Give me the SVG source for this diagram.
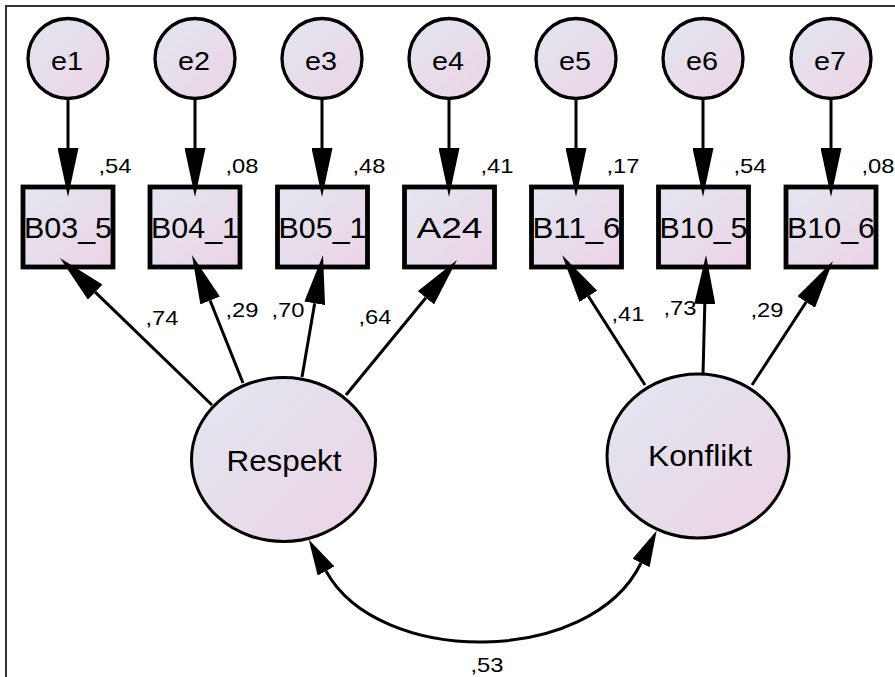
<svg xmlns="http://www.w3.org/2000/svg" width="895" height="677" viewBox="0 0 895 677">
  <style>
    .node { fill: url(#fillGrad); stroke: #000; }
    .err { stroke-width: 3.3; }
    .obs { stroke-width: 4.8; }
    .lat { stroke-width: 3; }
    .lbl { font-family: "Liberation Sans", Arial, sans-serif; fill: #000; text-anchor: middle; }
    .num { font-family: "Liberation Sans", Arial, sans-serif; fill: #000; font-size: 21px; }
    .path { fill: none; stroke: #000; stroke-width: 3; }
  </style>
  <defs>
    <linearGradient id="fillGrad" x1="0" y1="0" x2="1" y2="1">
      <stop offset="0" stop-color="#e2e6f0"/>
      <stop offset="1" stop-color="#ecd3e6"/>
    </linearGradient>
    <!-- long arrowhead; its base sits on the path end -->
    <marker id="head" markerUnits="userSpaceOnUse" viewBox="0 0 49 21" refX="0" refY="10.5" markerWidth="49" markerHeight="21" orient="auto">
      <path d="M0,0 L49,10.5 L0,21 z" fill="#000"/>
    </marker>
    <!-- shorter head used on the covariance curve -->
    <marker id="covHead" markerUnits="userSpaceOnUse" viewBox="0 0 36 19" refX="0" refY="9.5" markerWidth="36" markerHeight="19" orient="auto-start-reverse">
      <path d="M0,0 L36,9.5 L0,19 z" fill="#000"/>
    </marker>
  </defs>

  <rect width="895" height="677" fill="#fff"/>
  <!-- frame -->
  <path d="M6,677 V6 H895" fill="none" stroke="#333" stroke-width="2"/>

  <!-- error terms -->
  <g id="e1"><circle class="node err" cx="68" cy="58.5" r="40"/><text class="lbl" x="67" y="69.5" font-size="25" textLength="32" lengthAdjust="spacingAndGlyphs">e1</text></g>
  <g id="e2"><circle class="node err" cx="195" cy="58.5" r="40"/><text class="lbl" x="194" y="69.5" font-size="25" textLength="32" lengthAdjust="spacingAndGlyphs">e2</text></g>
  <g id="e3"><circle class="node err" cx="322" cy="58.5" r="40"/><text class="lbl" x="321" y="69.5" font-size="25" textLength="32" lengthAdjust="spacingAndGlyphs">e3</text></g>
  <g id="e4"><circle class="node err" cx="449" cy="58.5" r="40"/><text class="lbl" x="448" y="69.5" font-size="25" textLength="32" lengthAdjust="spacingAndGlyphs">e4</text></g>
  <g id="e5"><circle class="node err" cx="576" cy="58.5" r="40"/><text class="lbl" x="575" y="69.5" font-size="25" textLength="32" lengthAdjust="spacingAndGlyphs">e5</text></g>
  <g id="e6"><circle class="node err" cx="703" cy="58.5" r="40"/><text class="lbl" x="702" y="69.5" font-size="25" textLength="32" lengthAdjust="spacingAndGlyphs">e6</text></g>
  <g id="e7"><circle class="node err" cx="831" cy="58.5" r="40"/><text class="lbl" x="830" y="69.5" font-size="25" textLength="32" lengthAdjust="spacingAndGlyphs">e7</text></g>

  <!-- observed variables -->
  <g id="B03_5"><rect class="node obs" x="23" y="187" width="90" height="80"/><text class="lbl" x="68" y="237.5" font-size="30" textLength="88" lengthAdjust="spacingAndGlyphs">B03_5</text></g>
  <g id="B04_1"><rect class="node obs" x="150" y="187" width="90" height="80"/><text class="lbl" x="195" y="237.5" font-size="30" textLength="88" lengthAdjust="spacingAndGlyphs">B04_1</text></g>
  <g id="B05_1"><rect class="node obs" x="277.5" y="187" width="90" height="80"/><text class="lbl" x="322.5" y="237.5" font-size="30" textLength="88" lengthAdjust="spacingAndGlyphs">B05_1</text></g>
  <g id="A24"><rect class="node obs" x="404.5" y="187" width="90" height="80"/><text class="lbl" x="449.5" y="237.5" font-size="30" textLength="66" lengthAdjust="spacingAndGlyphs">A24</text></g>
  <g id="B11_6"><rect class="node obs" x="531.5" y="187" width="90" height="80"/><text class="lbl" x="576.5" y="237.5" font-size="30" textLength="88" lengthAdjust="spacingAndGlyphs">B11_6</text></g>
  <g id="B10_5"><rect class="node obs" x="658.5" y="187" width="90" height="80"/><text class="lbl" x="703.5" y="237.5" font-size="30" textLength="88" lengthAdjust="spacingAndGlyphs">B10_5</text></g>
  <g id="B10_6"><rect class="node obs" x="786" y="187" width="90" height="80"/><text class="lbl" x="831" y="237.5" font-size="30" textLength="88" lengthAdjust="spacingAndGlyphs">B10_6</text></g>

  <!-- latent factors -->
  <g id="Respekt"><ellipse class="node lat" cx="283.5" cy="459.5" rx="92" ry="82"/><text class="lbl" x="284" y="470.5" font-size="29" textLength="115" lengthAdjust="spacingAndGlyphs">Respekt</text></g>
  <g id="Konflikt"><ellipse class="node lat" cx="698" cy="456" rx="91" ry="82"/><text class="lbl" x="700" y="465.5" font-size="29" textLength="104" lengthAdjust="spacingAndGlyphs">Konflikt</text></g>

  <!-- paths: error terms, loadings, covariance -->
  <g id="connectors">
    <path class="path" d="M68,99 V148" marker-end="url(#head)"/>
    <path class="path" d="M195,99 V148" marker-end="url(#head)"/>
    <path class="path" d="M322,99 V148" marker-end="url(#head)"/>
    <path class="path" d="M449,99 V148" marker-end="url(#head)"/>
    <path class="path" d="M576,99 V148" marker-end="url(#head)"/>
    <path class="path" d="M703,99 V148" marker-end="url(#head)"/>
    <path class="path" d="M831,99 V148" marker-end="url(#head)"/>

    <path class="path" d="M212,405 L95.2,292.1" marker-end="url(#head)"/>
    <path class="path" d="M243,383 L210.1,300.5" marker-end="url(#head)"/>
    <path class="path" d="M302,377 L314.7,303.3" marker-end="url(#head)"/>
    <path class="path" d="M346,395 L425.9,297.8" marker-end="url(#head)"/>
    <path class="path" d="M645,385 L588.4,296.3" marker-end="url(#head)"/>
    <path class="path" d="M703,375 L704.8,304" marker-end="url(#head)"/>
    <path class="path" d="M752,385 L806.2,302" marker-end="url(#head)"/>

    <path class="path" d="M326,571 C378.5,667 590.6,667 641,563" marker-start="url(#covHead)" marker-end="url(#covHead)"/>
  </g>

  <!-- squared multiple correlations -->
  <g id="r2">
    <text class="num" x="98.5" y="173" textLength="33" lengthAdjust="spacingAndGlyphs">,54</text>
    <text class="num" x="225.5" y="173" textLength="33" lengthAdjust="spacingAndGlyphs">,08</text>
    <text class="num" x="352.5" y="173" textLength="33" lengthAdjust="spacingAndGlyphs">,48</text>
    <text class="num" x="480.5" y="173" textLength="33" lengthAdjust="spacingAndGlyphs">,41</text>
    <text class="num" x="606.5" y="173" textLength="33" lengthAdjust="spacingAndGlyphs">,17</text>
    <text class="num" x="733.5" y="173" textLength="33" lengthAdjust="spacingAndGlyphs">,54</text>
    <text class="num" x="861.5" y="173" textLength="33" lengthAdjust="spacingAndGlyphs">,08</text>
  </g>

  <!-- standardized loadings and correlation -->
  <g id="weights">
    <text class="num" x="145.5" y="325" textLength="33" lengthAdjust="spacingAndGlyphs">,74</text>
    <text class="num" x="225.5" y="317" textLength="33" lengthAdjust="spacingAndGlyphs">,29</text>
    <text class="num" x="271.5" y="317" textLength="33" lengthAdjust="spacingAndGlyphs">,70</text>
    <text class="num" x="358.5" y="324" textLength="33" lengthAdjust="spacingAndGlyphs">,64</text>
    <text class="num" x="611.5" y="321" textLength="33" lengthAdjust="spacingAndGlyphs">,41</text>
    <text class="num" x="663.5" y="315" textLength="33" lengthAdjust="spacingAndGlyphs">,73</text>
    <text class="num" x="750.5" y="317" textLength="33" lengthAdjust="spacingAndGlyphs">,29</text>
    <text class="num" x="470.5" y="672" textLength="33" lengthAdjust="spacingAndGlyphs">,53</text>
  </g>
</svg>
